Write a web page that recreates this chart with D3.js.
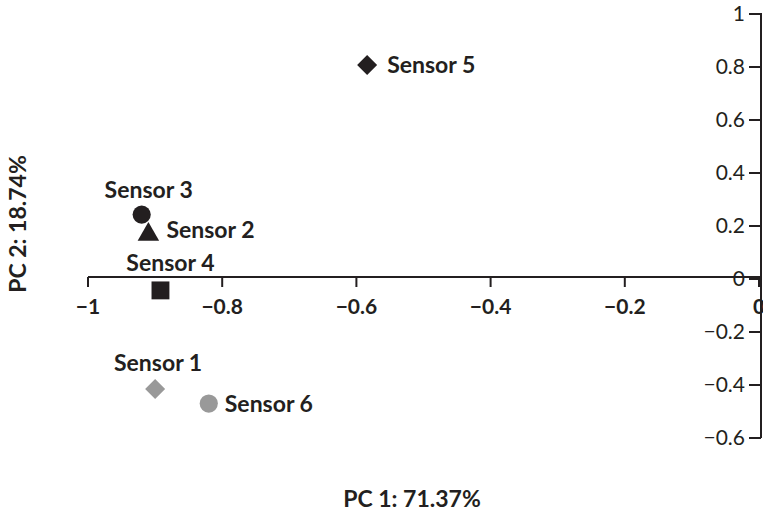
<!DOCTYPE html>
<html>
<head>
<meta charset="utf-8">
<script src="https://cdn.jsdelivr.net/npm/d3@7"></script>
<style>
  body { margin: 0; background: #fff; }
  svg { display: block; font-family: Lato, "Open Sans", sans-serif; }
  .ylab { font-size: 21px; fill: #231f20; }
  .xlab { font-size: 21px; font-weight: bold; fill: #231f20; }
  .plab { font-size: 23px; font-weight: bold; fill: #231f20; }
  .title { font-size: 23px; font-weight: bold; fill: #231f20; }
</style>
</head>
<body>
<svg id="chart" width="763" height="517"></svg>
<script>
const sensors = ['Sensor 1', 'Sensor 2', 'Sensor 3', 'Sensor 4', 'Sensor 5', 'Sensor 6'];
const pc1 = [-0.90, -0.910, -0.920, -0.892, -0.584, -0.820];
const pc2 = [-0.415, 0.168, 0.243, -0.043, 0.808, -0.470];
const shapes = ['diamond', 'triangle', 'circle', 'square', 'diamond', 'circle'];
const shades = ['gray', 'black', 'black', 'black', 'black', 'gray'];
const labelSide = ['top', 'right', 'top', 'top', 'right', 'right'];
const xTicks = [-1, -0.8, -0.6, -0.4, -0.2, 0];
const yTicks = [-0.6, -0.4, -0.2, 0, 0.2, 0.4, 0.6, 0.8, 1];

const ink = '#231f20';
const colours = { black: '#231f20', gray: '#999999' };
const svg = d3.select('#chart');

const x = d3.scaleLinear().domain([-1, 0]).range([88, 759]);
const y = d3.scaleLinear().domain([-0.6, 1]).range([438, 14]);
const minus = d => d3.format('')(d).replace('-', '\u2212');

// x axis sits on y = 0
const xAxisY = y(0) - 2;
svg.append('line')
    .attr('x1', x(-1)).attr('x2', 762)
    .attr('y1', xAxisY).attr('y2', xAxisY)
    .attr('stroke', ink).attr('stroke-width', 2);
svg.selectAll('.xtick')
    .data(xTicks)
    .enter()
    .append('line')
    .attr('x1', d => x(d)).attr('x2', d => x(d))
    .attr('y1', xAxisY).attr('y2', xAxisY + 10)
    .attr('stroke', ink).attr('stroke-width', 2);
svg.selectAll('.xlab')
    .data(xTicks)
    .enter()
    .append('text')
    .classed('xlab', true)
    .attr('x', d => x(d))
    .attr('y', xAxisY + 37)
    .attr('text-anchor', 'middle')
    .text(minus);

// y axis sits on x = 0
const yAxisX = 761;
svg.append('line')
    .attr('x1', yAxisX).attr('x2', yAxisX)
    .attr('y1', y(1) - 1).attr('y2', y(-0.6))
    .attr('stroke', ink).attr('stroke-width', 2);
svg.selectAll('.ytick')
    .data(yTicks)
    .enter()
    .append('line')
    .attr('x1', yAxisX - 12).attr('x2', yAxisX)
    .attr('y1', d => y(d)).attr('y2', d => y(d))
    .attr('stroke', ink).attr('stroke-width', 2);
svg.selectAll('.ylab')
    .data(yTicks)
    .enter()
    .append('text')
    .classed('ylab', true)
    .attr('x', yAxisX - 16)
    .attr('y', d => y(d))
    .attr('dy', '0.35em')
    .attr('text-anchor', 'end')
    .text(minus);

// points
const symbolType = {
    circle: d3.symbolCircle,
    square: d3.symbolSquare,
    triangle: d3.symbolTriangle,
    diamond: d3.symbolSquare
};
const symbolSize = { circle: 260, square: 320, triangle: 200, diamond: 200 };

svg.selectAll('.point')
    .data(sensors)
    .enter()
    .append('path')
    .attr('d', (d, i) => d3.symbol().type(symbolType[shapes[i]]).size(symbolSize[shapes[i]])())
    .attr('transform', (d, i) => `translate(${x(pc1[i])},${y(pc2[i])})` + (shapes[i] === 'diamond' ? ' rotate(45)' : ''))
    .attr('fill', (d, i) => colours[shades[i]]);

// label offsets from the marker, in pixels
const labelDx = [3, 18, 7, 10, 20, 16];
const labelDy = [-18, 4, -17, -19, 8, 8];
svg.selectAll('.plab')
    .data(sensors)
    .enter()
    .append('text')
    .classed('plab', true)
    .attr('x', (d, i) => x(pc1[i]) + labelDx[i])
    .attr('y', (d, i) => y(pc2[i]) + labelDy[i])
    .attr('text-anchor', (d, i) => labelSide[i] === 'right' ? 'start' : 'middle')
    .text(d => d);

// axis titles
svg.append('text')
    .classed('title', true)
    .attr('x', 412).attr('y', 507)
    .attr('text-anchor', 'middle')
    .text('PC 1: 71.37%');
svg.append('text')
    .classed('title', true)
    .attr('transform', 'translate(26,224) rotate(-90)')
    .attr('text-anchor', 'middle')
    .text('PC 2: 18.74%');
</script>
</body>
</html>
